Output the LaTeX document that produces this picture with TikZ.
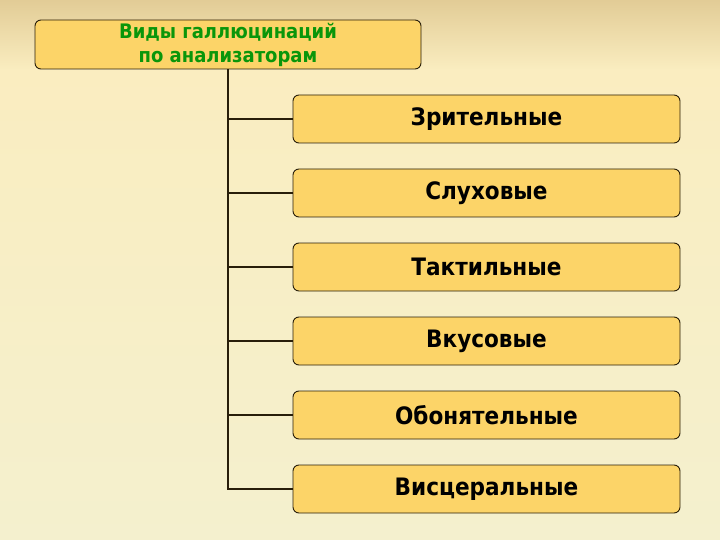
\documentclass[tikz,border=0pt]{standalone}
\usepackage{fontspec}
\setmainfont{DejaVu Sans Condensed}
\definecolor{boxfill}{RGB}{252,212,104}
\definecolor{boxline}{RGB}{40,30,10}
\definecolor{titlegreen}{RGB}{10,150,10}
\definecolor{bgtop}{RGB}{226,204,150}
\definecolor{bgmid}{RGB}{250,237,192}
\definecolor{bgbot}{RGB}{244,240,206}
\begin{document}
\begin{tikzpicture}[x=1pt, y=-1pt, font=\bfseries]
\tikzstyle{every node}=[draw=boxline, line width=0.9pt, fill=boxfill, rounded corners=6pt, inner sep=0pt]
\tikzstyle{kind}=[minimum width=387pt, minimum height=48pt, font=\bfseries\fontsize{24}{28}\selectfont]
\useasboundingbox (0,0) rectangle (720,540);
\shade[top color=bgtop, bottom color=bgmid] (0,0) rectangle (720,70);
\shade[top color=bgmid, bottom color=bgbot] (0,70) rectangle (720,540);
\node[minimum width=386pt, minimum height=49pt, align=center, text=titlegreen,
      font=\bfseries\fontsize{20}{24}\selectfont](h0) at (228,44.5) {Виды галлюцинаций\\по анализаторам};
\node[kind](h1) at (486.5,119) {Зрительные};
\node[kind](h2) at (486.5,193) {Слуховые};
\node[kind](h3) at (486.5,267) {Тактильные};
\node[kind](h4) at (486.5,341) {Вкусовые};
\node[kind](h5) at (486.5,415) {Обонятельные};
\node[kind](h6) at (486.5,489) {Висцеральные};
\draw[line width=2pt, boxline] (h0.south) |- (h1.west);
\draw[line width=2pt, boxline] (h0.south) |- (h2.west);
\draw[line width=2pt, boxline] (h0.south) |- (h3.west);
\draw[line width=2pt, boxline] (h0.south) |- (h4.west);
\draw[line width=2pt, boxline] (h0.south) |- (h5.west);
\draw[line width=2pt, boxline] (h0.south) |- (h6.west);
\end{tikzpicture}
\end{document}
